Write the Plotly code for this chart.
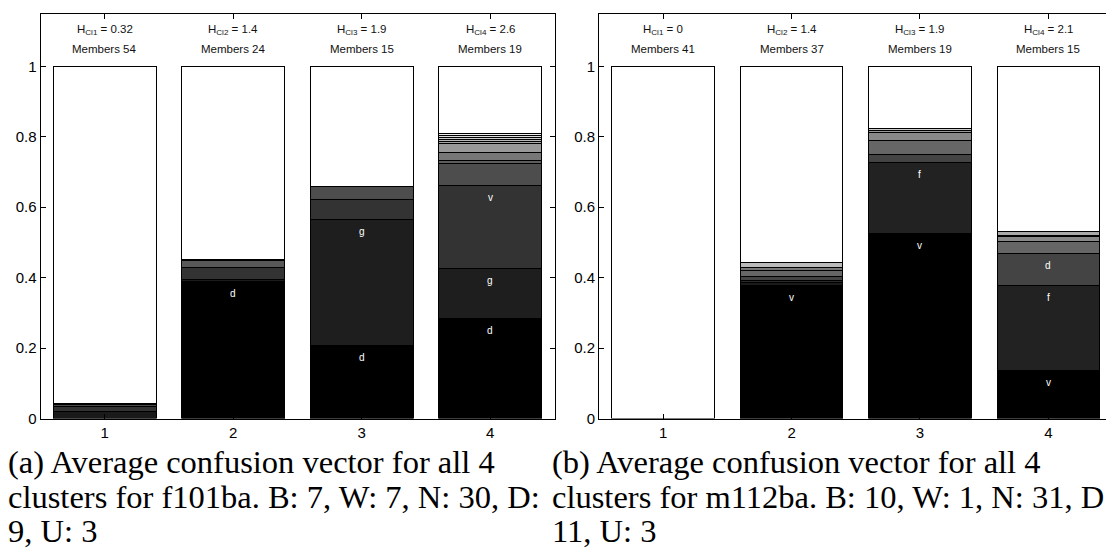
import plotly.graph_objects as go

W, H = 1106, 558

clusters = [1, 2, 3, 4]

# Panel (a): f101ba - stacked confusion shares per cluster (bottom to top),
# the white remainder up to 1 is added on top.
f101_shares = [
    [0.021, 0.012, 0.006, 0.004],
    [0.389, 0.006, 0.033, 0.020, 0.004],
    [0.207, 0.359, 0.057, 0.035],
    [0.284, 0.141, 0.238, 0.060, 0.010, 0.023, 0.024, 0.006, 0.006, 0.006, 0.006, 0.006],
]
f101_labels = [
    [],
    ["d"],
    ["d", "g"],
    ["d", "g", "v"],
]
f101_entropy = ["0.32", "1.4", "1.9", "2.6"]
f101_members = [54, 24, 15, 19]

# Panel (b): m112ba
m112_shares = [
    [],
    [0.379, 0.006, 0.006, 0.013, 0.015, 0.010, 0.013],
    [0.526, 0.202, 0.022, 0.040, 0.021, 0.006, 0.007],
    [0.137, 0.241, 0.091, 0.035, 0.014, 0.003, 0.009],
]
m112_labels = [
    [],
    ["v"],
    ["v", "f"],
    ["v", "f", "d"],
]
m112_entropy = ["0", "1.4", "1.9", "2.1"]
m112_members = [41, 37, 19, 15]

# Grey shades of the stacked segments (bottom to top)
f101_shades = [
    ["#1a1a1a", "#333333", "#4a4a4a", "#5a5a5a"],
    ["#000000", "#1c1c1c", "#333333", "#585858", "#7a7a7a"],
    ["#000000", "#1e1e1e", "#333333", "#4d4d4d"],
    ["#000000", "#1e1e1e", "#333333", "#4d4d4d", "#5e5e5e", "#777777",
     "#999999", "#aaaaaa", "#bbbbbb", "#cccccc", "#dddddd", "#eeeeee"],
]
m112_shades = [
    [],
    ["#000000", "#1a1a1a", "#2a2a2a", "#444444", "#666666", "#777777", "#bbbbbb"],
    ["#000000", "#222222", "#444444", "#666666", "#888888", "#999999", "#cccccc"],
    ["#000000", "#222222", "#444444", "#666666", "#888888", "#999999", "#aaaaaa"],
]

captions_a = [
    "(a) Average confusion vector for all 4",
    "clusters for f101ba. B: 7, W: 7, N: 30, D:",
    "9, U: 3",
]
captions_b = [
    "(b) Average confusion vector for all 4",
    "clusters for m112ba. B: 10, W: 1, N: 31, D",
    "11, U: 3",
]

SANS = "Liberation Sans, Arial, Helvetica, sans-serif"
SERIF = "Liberation Serif, Times New Roman, serif"

fig = go.Figure()
annotations = []


def add_panel(shares, labels, shades, entropy, members, xref, yref):
    npos = max(len(s) for s in shares)
    for k in range(npos):
        ys = [s[k] if k < len(s) else None for s in shares]
        cols = [sh[k] if k < len(sh) else "#ffffff" for sh in shades]
        fig.add_trace(go.Bar(
            x=clusters, y=ys, width=0.8,
            marker=dict(color=cols, line=dict(color="#000000", width=1)),
            xaxis=xref, yaxis=yref, showlegend=False, hoverinfo="skip",
        ))
    rest = [1 - sum(s) for s in shares]
    fig.add_trace(go.Bar(
        x=clusters, y=rest, width=0.8,
        marker=dict(color="#ffffff", line=dict(color="#000000", width=1)),
        xaxis=xref, yaxis=yref, showlegend=False, hoverinfo="skip",
    ))
    axr = "x" if xref == "x" else "x2"
    ayr = "y" if yref == "y" else "y2"
    for ci, (s, lab) in enumerate(zip(shares, labels)):
        top = 0.0
        for k, v in enumerate(s):
            top += v
            if k < len(lab) and lab[k]:
                annotations.append(dict(
                    x=clusters[ci], y=top, xref=axr, yref=ayr, yshift=-12,
                    text=lab[k], showarrow=False,
                    font=dict(family=SANS, size=10, color="#ffffff"),
                ))
    for ci in range(len(clusters)):
        annotations.append(dict(
            x=clusters[ci], y=1.102, xref=axr, yref=ayr,
            text=f"H<sub>Cl{clusters[ci]}</sub> = {entropy[ci]}",
            showarrow=False, font=dict(family=SANS, size=11.5, color="#111111"),
        ))
        annotations.append(dict(
            x=clusters[ci], y=1.048, xref=axr, yref=ayr,
            text=f"Members {members[ci]}",
            showarrow=False, font=dict(family=SANS, size=11.5, color="#111111"),
        ))


add_panel(f101_shares, f101_labels, f101_shades, f101_entropy, f101_members, "x", "y")
add_panel(m112_shares, m112_labels, m112_shades, m112_entropy, m112_members, "x2", "y2")

for i, line in enumerate(captions_a):
    annotations.append(dict(
        x=6 / W, y=1 - (462 + 34.5 * i) / H, xref="paper", yref="paper",
        xanchor="left", yanchor="middle", text=line, showarrow=False,
        font=dict(family=SERIF, size=32.5, color="#000000"),
    ))
for i, line in enumerate(captions_b):
    annotations.append(dict(
        x=550 / W, y=1 - (462 + 34.5 * i) / H, xref="paper", yref="paper",
        xanchor="left", yanchor="middle", text=line, showarrow=False,
        font=dict(family=SERIF, size=32.5, color="#000000"),
    ))

ydom = [1 - 418.5 / H, 1 - 13.5 / H]
yticks = [0, 0.2, 0.4, 0.6, 0.8, 1]
ytext = ["0", "0.2", "0.4", "0.6", "0.8", "1"]

common_x = dict(
    tickvals=clusters, ticktext=[str(c) for c in clusters],
    ticks="inside", ticklen=5, tickcolor="#000000",
    showline=True, linecolor="#000000", linewidth=1, showgrid=False,
    zeroline=False, tickfont=dict(family=SANS, size=15, color="#000000"),
    automargin=False, fixedrange=True,
)
common_y = dict(
    range=[0, 1.15], domain=ydom, tickvals=yticks, ticktext=ytext,
    ticks="inside", ticklen=5, tickcolor="#000000",
    showline=True, linecolor="#000000", linewidth=1, showgrid=False,
    zeroline=False, tickfont=dict(family=SANS, size=15, color="#000000"),
    automargin=False, fixedrange=True,
)

fig.update_layout(
    width=W, height=H,
    margin=dict(l=0, r=0, t=0, b=0),
    paper_bgcolor="#ffffff", plot_bgcolor="#ffffff",
    barmode="stack",
    xaxis=dict(domain=[40.5 / W, 554.5 / W], range=[0.5, 4.5], mirror="ticks",
               anchor="y", **common_x),
    yaxis=dict(anchor="x", mirror="ticks", **common_y),
    xaxis2=dict(domain=[599 / W, 1.0], range=[0.5, 4.449], mirror="ticks",
                anchor="y2", **common_x),
    yaxis2=dict(anchor="x2", mirror=False, **common_y),
    annotations=annotations,
)

fig.write_html("out.html", config={"displayModeBar": False})
